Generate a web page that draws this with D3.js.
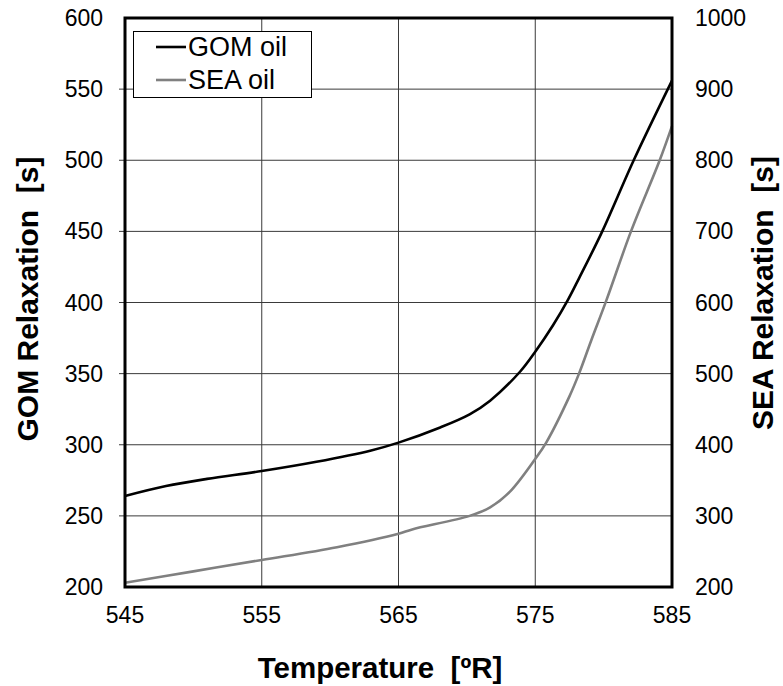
<!DOCTYPE html>
<html>
<head>
<meta charset="utf-8">
<script src="https://cdn.jsdelivr.net/npm/d3@7"></script>
<style>
  html, body { margin: 0; padding: 0; background: #fff; }
  svg { display: block; font-family: Arial, "Liberation Sans", sans-serif; }
</style>
</head>
<body>
<svg id="chart" width="783" height="686"></svg>
<script>
// Temperature (ºR) and relaxation times (s)
const gomTemp = [545, 548, 551, 555, 559, 563, 565, 568, 570.2, 571.7, 573.9, 575, 576.3, 577.4, 578.2, 579.9, 582.2, 585];
const gomRelax = [264, 271, 276, 281.5, 288, 296, 301.5, 312, 321.4, 331, 351.5, 365.4, 384, 402, 417, 450, 500, 556];

const seaTemp = [545, 550, 555, 560.5, 565, 566, 570.2, 571.7, 573.15, 575, 575.8, 577.5, 578.2, 579.1, 580.2, 582, 584.1, 585];
const seaRelax = [206, 222, 238, 256, 275, 281, 300, 312, 334, 380, 403, 468, 500, 547, 603, 700, 800, 848];

const xTicks = [545, 555, 565, 575, 585];
const leftTicks = [200, 250, 300, 350, 400, 450, 500, 550, 600];
const rightTicks = [200, 300, 400, 500, 600, 700, 800, 900, 1000];

const seriesNames = ["GOM oil", "SEA oil"];
const seriesColors = ["#000000", "#808080"];

const svg = d3.select("#chart");
const L = 125, R = 672, T = 18, B = 587;

const x = d3.scaleLinear().domain([545, 585]).range([L, R]);
const yL = d3.scaleLinear().domain([200, 600]).range([B, T]);
const yR = d3.scaleLinear().domain([200, 1000]).range([B, T]);

// grid
const grid = svg.append("g").attr("stroke", "#3a3a3a").attr("stroke-width", 1);
xTicks.slice(1, -1).forEach(v => {
  grid.append("line").attr("x1", x(v)).attr("x2", x(v)).attr("y1", T).attr("y2", B);
});
leftTicks.slice(1, -1).forEach(v => {
  grid.append("line").attr("x1", L - 6).attr("x2", R).attr("y1", yL(v)).attr("y2", yL(v));
});

// curves
const curve = d3.curveCatmullRom.alpha(0.5);
const lineG = d3.line().x(d => x(d[0])).y(d => yL(d[1])).curve(curve);
const lineS = d3.line().x(d => x(d[0])).y(d => yR(d[1])).curve(curve);

svg.append("path")
  .datum(d3.zip(seaTemp, seaRelax))
  .attr("d", lineS).attr("fill", "none")
  .attr("stroke", seriesColors[1]).attr("stroke-width", 2.6);
svg.append("path")
  .datum(d3.zip(gomTemp, gomRelax))
  .attr("d", lineG).attr("fill", "none")
  .attr("stroke", seriesColors[0]).attr("stroke-width", 2.6);

// frame
svg.append("rect").attr("x", L).attr("y", T).attr("width", R - L).attr("height", B - T)
  .attr("fill", "none").attr("stroke", "#000").attr("stroke-width", 3);

// tick labels
const fs = 23;
svg.append("g").selectAll("text").data(leftTicks).join("text")
  .attr("x", 103).attr("y", d => yL(d)).attr("dy", "0.35em")
  .attr("text-anchor", "end").attr("font-size", fs).text(d => d);
svg.append("g").selectAll("text").data(rightTicks).join("text")
  .attr("x", 695).attr("y", d => yR(d)).attr("dy", "0.35em")
  .attr("text-anchor", "start").attr("font-size", fs).text(d => d);
svg.append("g").selectAll("text").data(xTicks).join("text")
  .attr("x", d => x(d)).attr("y", 623)
  .attr("text-anchor", "middle").attr("font-size", fs).text(d => d);

// axis titles
svg.append("text").attr("x", 380).attr("y", 678).attr("text-anchor", "middle")
  .attr("font-size", 29.5).attr("font-weight", "bold").text("Temperature\u00a0\u00a0[ºR]");
svg.append("text").attr("transform", "translate(38,299) rotate(-90)")
  .attr("text-anchor", "middle").attr("font-size", 30).attr("font-weight", "bold")
  .text("GOM Relaxation\u00a0\u00a0[s]");
svg.append("text").attr("transform", "translate(773,293) rotate(-90)")
  .attr("text-anchor", "middle").attr("font-size", 30).attr("font-weight", "bold")
  .text("SEA Relaxation\u00a0\u00a0[s]");

// legend
const lg = svg.append("g");
lg.append("rect").attr("x", 133.5).attr("y", 31.5).attr("width", 178).attr("height", 66)
  .attr("fill", "#fff").attr("stroke", "#000").attr("stroke-width", 1);
seriesNames.forEach((n, i) => {
  const yy = 47 + i * 33;
  lg.append("line").attr("x1", 156).attr("x2", 186).attr("y1", yy).attr("y2", yy)
    .attr("stroke", seriesColors[i]).attr("stroke-width", 2.6);
  lg.append("text").attr("x", 188).attr("y", yy).attr("dy", "0.35em")
    .attr("font-size", 27).text(n);
});
</script>
</body>
</html>
